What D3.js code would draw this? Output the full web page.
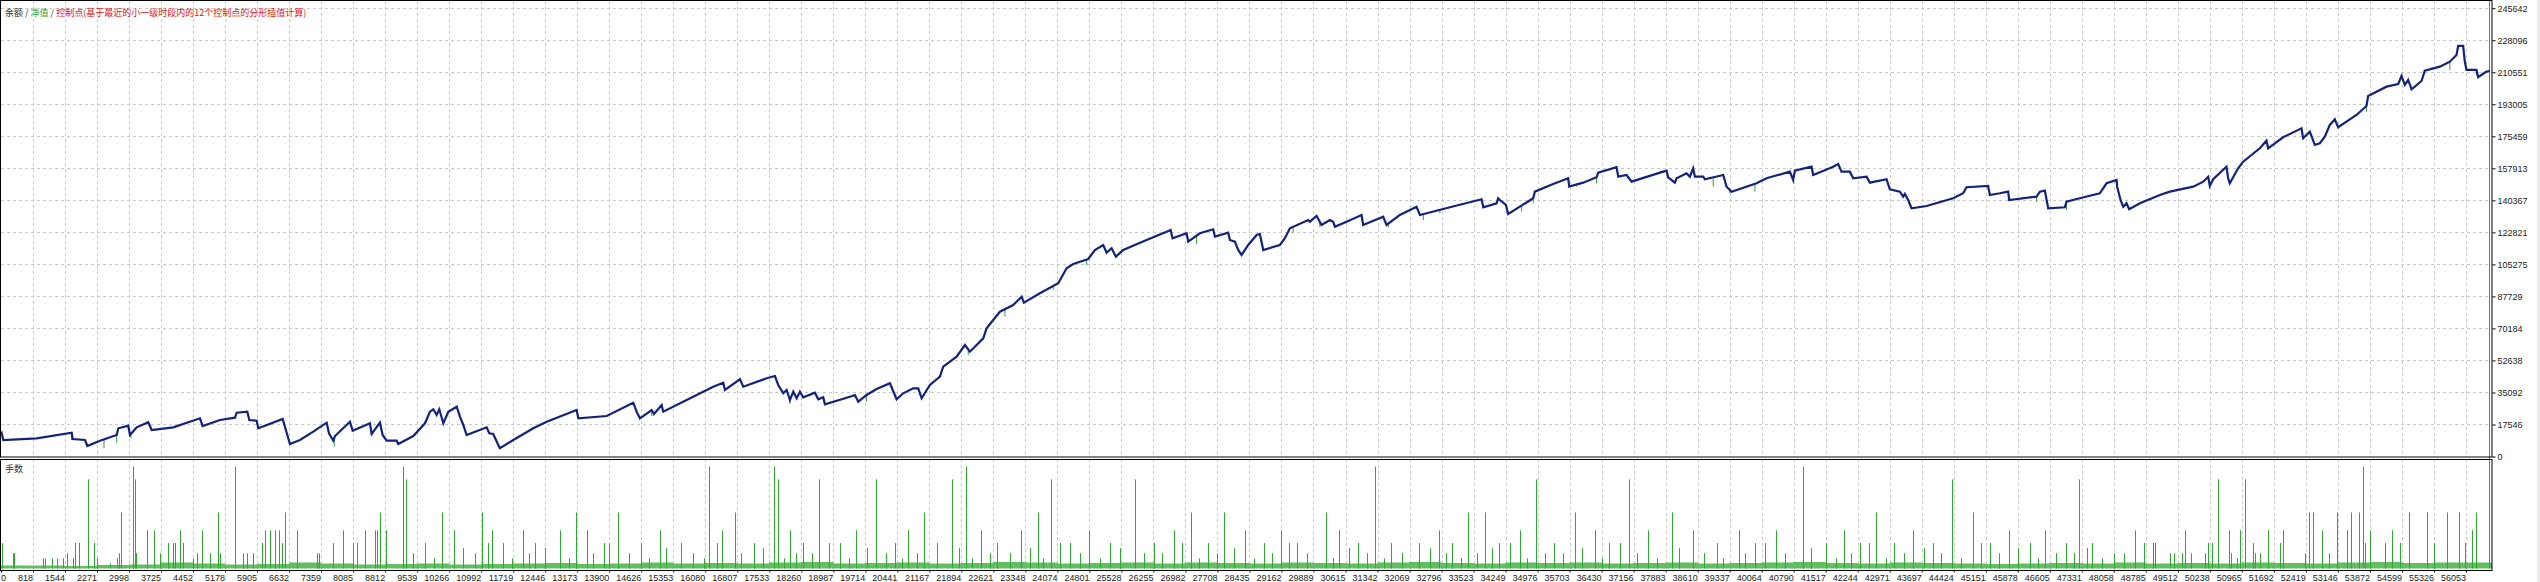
<!DOCTYPE html>
<html><head><meta charset="utf-8">
<script src="https://cdn.jsdelivr.net/npm/d3@7"></script>
<style>body{margin:0;background:#fff;overflow:hidden} svg{display:block}</style>
</head><body>
<script>
// ---------- DATA ----------
const xTickLabels = ["0","818","1544","2271","2998","3725","4452","5178","5905","6632","7359","8085","8812","9539","10266","10992","11719","12446","13173","13900","14626","15353","16080","16807","17533","18260","18987","19714","20441","21167","21894","22621","23348","24074","24801","25528","26255","26982","27708","28435","29162","29889","30615","31342","32069","32796","33523","34249","34976","35703","36430","37156","37883","38610","39337","40064","40790","41517","42244","42971","43697","44424","45151","45878","46605","47331","48058","48785","49512","50238","50965","51692","52419","53146","53872","54599","55326","56053"];
const yTickLabels = ["0","17546","35092","52638","70184","87729","105275","122821","140367","157913","175459","193005","210551","228096","245642"];
const xTickStep = 726.73;     // trades per grid column
const totalTrades = 56550;
const yTickStep = 17545.857;

const balanceTrades = [0,16,52,810,1605,1627,1907,1960,2247,2626,2664,2890,2928,3080,3344,3420,3912,4517,4578,4971,5312,5350,5591,5637,5804,5841,6394,6560,6787,7090,7393,7446,7543,7582,7922,7983,8376,8414,8603,8664,8755,8982,9019,9360,9625,9738,9814,9890,9950,10041,10155,10345,10419,10495,10571,11025,11084,11175,11289,
11327,11630,12084,12388,13068,13106,13750,14353,14430,14505,14771,14823,14998,15034,15565,16169,16397,16435,16775,16850,17381,17570,17645,17758,17835,17910,17986,18062,18137,18212,18478,18553,18666,18705,19272,19386,19461,19651,19878,20180,20332,20482,20709,20823,20900,21088,21315,21390,21694,21883,21996,22298,22375,22525,22677,
22980,23170,23222,23585,24001,24191,24341,24682,24834,25022,25099,25213,25310,25476,26007,26461,26552,26597,26915,26952,27217,27520,27558,27860,27898,28011,28087,28163,28314,28504,28579,28655,29033,29147,29260,29676,29714,29866,29979,30168,30243,30281,30546,30887,30924,31378,31454,31757,32135,32211,32892,33612,33650,33952,33989,
34027,34164,34215,34481,34784,34822,35237,35578,35601,35919,36222,36259,36676,36714,36903,37017,37735,37811,37848,38000,38038,38265,38340,38415,38454,38643,38681,39097,39173,39287,39854,40081,40610,40685,40724,41102,41140,41594,41707,41783,41972,42048,42351,42427,42805,42880,43107,43183,43221,43296,43372,43713,44318,44544,44620,45112,45150,45377,
45566,45589,46210,46287,46399,46475,46853,46891,47194,47647,47800,48027,48040,48117,48178,48253,48314,48557,49011,49237,49767,49994,50107,50144,50220,50522,50560,50598,50787,50901,51279,51430,51468,51808,52225,52263,52414,52528,52641,52755,52868,52982,53057,53246,53473,53700,53738,54155,54420,54496,54571,54647,54723,54798,54950,55025,55366,55593,55744,55782,55895,55933,55971,56198,56236,56311,56425,56500];
const balanceValues = [12000,12700,9040,9970,13040,9590,9040,5750,8660,11780,15450,16880,11780,16000,18740,14520,16000,20930,16710,20000,21260,24000,24550,20000,19620,15450,20550,6850,9040,13590,18520,12710,8660,11230,19070,14140,18190,12330,18520,11780,8660,8660,6850,11230,18190,24550,25870,22740,25870,18190,24550,27290,21810,17260,11780,16000,12710,12330,6300,
4490,9040,15450,19070,25480,20930,22190,29480,24550,20930,25480,23290,28220,24550,30960,38250,40440,36440,42310,38250,42850,44110,39180,34630,36440,30960,35510,31890,35510,32440,34960,31350,32440,28610,32770,33700,30030,33700,36990,40110,31350,34630,37370,37370,31890,39180,43730,49210,54690,61100,57430,64770,70250,74800,79350,
83020,87570,84280,89430,94910,103130,105490,108230,113160,115900,111680,114090,109490,113160,118640,123190,124120,119570,122310,117710,122310,124500,120450,122640,118640,117710,113160,110420,115900,121380,121930,113160,115900,119570,125050,129600,128670,131790,126860,129600,128670,125930,128670,132340,126860,131410,126860,132340,136890,132340,136560,140950,136560,138750,141490,
140560,137820,132890,136890,141490,145110,149330,152450,147850,150040,153000,155520,158480,153330,154260,150590,156070,156620,153000,150040,152450,155190,153330,157930,153330,153330,151910,154260,147850,145110,149710,152450,156070,151520,156620,158810,154260,158810,160290,156070,156070,152450,153330,150040,151910,146420,145110,142370,143850,140560,136010,137270,141490,144230,147520,148230,143300,144230,
145110,140560,142370,145110,145660,136010,136560,139630,141490,144230,149710,151520,147850,140560,136890,138750,135460,138750,143300,145110,147850,150590,153330,148230,151910,158810,152450,149710,157930,161550,168890,173060,168890,174920,179850,174370,177990,170700,171630,175250,181660,184780,180400,183470,187140,192070,197550,202650,204130,208510,203580,206320,201230,202650,205770,211420,213610,216350,220020,224950,224950,216350,211800,211800,207800,209060,210880,211250];

const equityDipTrades = [1605,2338,2626,2951,7566,14771,17910,19651,21958,22791,23887,24645,27142,29335,29941,31492,32290,32665,34520,34784,35768,36222,38870,39248,39816,46210,46891,53700,55593,56198];
const equityDipValues = [9040,4490,7560,9970,5370,22190,28770,30030,55620,76610,91240,104940,116450,122640,125600,125600,129600,133270,134150,138750,147850,149710,147850,144230,145110,139630,135080,188950,211800,209060];

// notable volume bars (trade number, lots)
const volumeTrades = [15,265,295,961,999,1150,1264,1416,1491,1642,1680,1778,1982,2119,2171,2474,2626,2686,2716,2989,3004,3042,3057,3306,3473,3609,3798,3912,3950,4063,4123,4351,4441,4570,4744,4933,4971,5319,5501,5577,5728,5917,5993,6106,6220,6318,6371,6447,6727,7166,7226,7529,7771,7998,8089,8263,8490,8528,8604,8740,
9119,9193,9634,10001,10295,10921,11141,11399,11840,12134,12685,13053,13310,13678,14009,14524,14965,15443,16068,16362,16656,17098,17539,17649,17907,18201,18569,19047,19415,19856,20297,20591,20959,21584,21915,22246,22614,23165,23533,23827,24268,24709,25187,25739,26180,26621,27025,27393,27761,28239,28681,29048,29416,30078,30372,30813,31181,31549,32652,32946,33314,33682,34012,34490,34858,35262,35740,36180,36511,36952,37393,37944,38422,38954,39449,39817,40295,40918,41433,41837,42204,42572,42976,43417,43858,44299,44777,45145,45586,46064,46395,46873,47168,47462,47976,48453,
48656,48843,48896,49236,49327,49502,49577,49713,50031,50106,50183,50333,50583,50614,50750,50825,50939,51128,51166,51279,51468,51734,51810,52301,52399,52490,52680,52853,53021,53248,53339,53535,53611,53670,53777,54117,54269,54457,54669,55064,55230,55518,55804,55933,56085,56198,56486];
const volumeLots = [0.5,0.3,0.3,0.2,0.2,0.2,0.2,0.2,0.3,0.2,0.5,0.5,1.75,0.5,0.2,0.1,0.2,0.3,1.1,0.5,2.0,1.75,0.3,0.75,0.75,0.3,0.5,0.5,0.5,0.75,0.5,0.2,0.3,0.75,0.3,1.1,0.3,2.0,0.3,0.3,0.3,0.5,0.75,0.75,0.75,0.75,0.5,1.1,0.75,0.3,0.3,0.5,0.75,0.5,0.5,0.75,0.75,0.75,1.1,0.75,
2.0,1.75,0.5,1.1,0.75,1.1,0.75,0.5,0.75,0.5,0.75,1.1,0.75,0.5,1.1,0.5,0.75,0.5,2.0,0.75,1.1,0.5,2.0,1.75,0.75,0.5,1.75,0.5,0.75,1.75,0.5,0.75,1.1,1.75,2.0,0.75,0.5,0.75,1.1,1.75,0.5,0.75,0.5,1.75,0.5,0.75,1.1,0.5,1.1,0.75,0.5,0.75,0.5,1.1,0.75,0.5,2.0,0.5,0.75,0.5,1.1,1.1,0.5,0.75,1.75,0.5,1.1,0.75,0.5,1.75,0.75,1.1,0.75,0.5,0.75,0.5,0.75,2.0,0.5,0.75,0.5,1.1,0.5,0.75,0.5,1.75,1.1,0.5,0.75,0.5,0.75,0.5,1.75,0.5,0.3,
0.75,0.5,0.5,0.5,0.3,0.3,0.3,0.75,0.3,0.3,0.5,0.5,1.75,0.75,0.3,0.2,0.75,1.75,0.5,0.3,0.3,0.75,0.5,0.75,0.3,1.1,1.1,0.75,0.3,1.1,0.75,1.1,1.1,2.0,0.5,0.75,0.5,0.75,0.5,1.1,1.1,0.5,1.1,1.1,0.5,0.75,1.1];

// smaller volume bars in the middle section
const smallVolumeTrades = [9350,9820,10480,10750,11050,11600,11980,12350,12900,13450,13800,14250,14700,15100,15700,15950,16250,16800,17300,17780,18050,18400,18800,19250,19650,20100,20450,20800,21250,21750,22050,22450,22900,23350,23650,24050,24500,24950,25400,25950,26350,26800,27200,27600,28000,28450,28850,29250,29650,30250,30600,31000,31400,31800,32200,32450,32800,33150,33500,33850,34250,34650,35050,35450,35900,36350,36750,37150,37600,38100,38650,39100,39600,40050,40500,41100,41650,42000,42400,42800,43200,43650,44050,44500,44950,45350,45800,46250,46650,47050,47350,47700,48200];
const smallVolumeLots = [0.3,0.2,0.4,0.3,0.5,0.2,0.3,0.4,0.2,0.3,0.5,0.3,0.2,0.4,0.3,0.2,0.5,0.3,0.4,0.2,0.3,0.3,0.5,0.2,0.4,0.3,0.2,0.3,0.5,0.4,0.2,0.3,0.3,0.4,0.2,0.5,0.3,0.2,0.4,0.3,0.3,0.5,0.2,0.3,0.4,0.2,0.3,0.5,0.3,0.2,0.4,0.3,0.2,0.3,0.5,0.4,0.3,0.2,0.3,0.4,0.5,0.2,0.3,0.3,0.4,0.2,0.5,0.3,0.2,0.4,0.3,0.2,0.3,0.5,0.3,0.4,0.2,0.3,0.5,0.2,0.3,0.4,0.3,0.2,0.5,0.3,0.4,0.2,0.3,0.3,0.4,0.2,0.3];

// typical small-lot activity per grid column (lots), read as the height of the low green band
const baseLotsPerColumn = [0.06,0.06,0.05,0.07,0.08,0.12,0.1,0.08,0.09,0.12,0.1,0.08,0.09,0.1,0.08,0.09,0.1,0.11,0.09,0.1,0.12,0.1,0.11,0.1,0.12,0.13,0.1,0.11,0.12,0.1,0.11,0.13,0.12,0.1,0.11,0.12,0.1,0.12,0.11,0.1,0.12,0.11,0.1,0.12,0.13,0.11,0.1,0.12,0.11,0.12,0.1,0.11,0.12,0.1,0.11,0.12,0.13,0.11,0.1,0.12,0.11,0.1,0.09,0.1,0.11,0.1,0.12,0.1,0.11,0.1,0.12,0.11,0.1,0.12,0.13,0.11,0.12,0.12];

const legendParts = [["余额","#333333"],[" / ","#333333"],["净值","#2e9e2e"],[" / ","#333333"],["控制点(基于最近的小一级时段内的12个控制点的分形插值计算)","#e01010"]];
const volumeLabel = "手数";

// ---------- LAYOUT ----------
const W = 2540, H = 582;
const L = 1, R = 2492, mainTop = 1, mainBottom = 457, volTop = 459, volBottom = 570;
const gridColor = "#c9c9c9";
const volColor = "#2ea82e";

const svg = d3.select("body").append("svg").attr("width", W).attr("height", H)
  .style("font-family", "'Liberation Sans', Arial, sans-serif");

const x = d3.scaleLinear().domain([0, totalTrades]).range([L, R]);
const y = d3.scaleLinear().domain([0, yTickStep * 14]).range([456.5, 8.2]);
const vMax = 2.15;
const yv = d3.scaleLinear().domain([0, vMax]).range([568.5, volTop]);

const xTickVals = xTickLabels.map((d, i) => i * xTickStep);
const yTickVals = yTickLabels.map((d, i) => i * yTickStep);

svg.append("rect").attr("x", 2537).attr("y", 0).attr("width", 3).attr("height", H).attr("fill", "#ececec");

// grid - main
const gMain = svg.append("g");
gMain.selectAll("line.hg").data(yTickVals.slice(1)).join("line")
  .attr("x1", L).attr("x2", R).attr("y1", d => Math.round(y(d)) + 0.5).attr("y2", d => Math.round(y(d)) + 0.5)
  .attr("stroke", gridColor).attr("stroke-dasharray", "3,3");
gMain.selectAll("line.vg").data(xTickVals.slice(1)).join("line")
  .attr("x1", d => Math.round(x(d)) + 0.5).attr("x2", d => Math.round(x(d)) + 0.5)
  .attr("y1", mainTop).attr("y2", mainBottom)
  .attr("stroke", gridColor).attr("stroke-dasharray", "3,3");
// grid - volume
svg.append("g").selectAll("line").data(xTickVals.slice(1)).join("line")
  .attr("x1", d => Math.round(x(d)) + 0.5).attr("x2", d => Math.round(x(d)) + 0.5)
  .attr("y1", volTop).attr("y2", volBottom)
  .attr("stroke", gridColor).attr("stroke-dasharray", "3,3");

// low-lot band (step area per grid column)
const bandData = baseLotsPerColumn.map((v, i) => [i * xTickStep, v]);
bandData.push([totalTrades, baseLotsPerColumn[baseLotsPerColumn.length - 1]]);
svg.append("path").datum(bandData)
  .attr("d", d3.area().curve(d3.curveStepAfter).x(d => x(d[0])).y0(yv(0)).y1(d => yv(d[1])))
  .attr("fill", volColor).attr("opacity", 0.75);

// volume bars
const allVol = volumeTrades.map((t, i) => [t, volumeLots[i]])
  .concat(smallVolumeTrades.map((t, i) => [t, smallVolumeLots[i]]));
svg.append("g").selectAll("line").data(allVol).join("line")
  .attr("x1", d => Math.round(x(d[0])) + 0.5).attr("x2", d => Math.round(x(d[0])) + 0.5)
  .attr("y1", yv(0)).attr("y2", d => yv(d[1]))
  .attr("stroke", volColor).attr("stroke-width", 1);

// equity dips
const balPts = balanceTrades.map((t, i) => [t, balanceValues[i]]);
const bis = d3.bisector(d => d[0]).left;
function balAt(t) {
  const i = Math.max(1, Math.min(balPts.length - 1, bis(balPts, t)));
  const a = balPts[i - 1], b = balPts[i];
  return a[1] + (b[1] - a[1]) * (t - a[0]) / ((b[0] - a[0]) || 1);
}
svg.append("g").selectAll("line").data(equityDipTrades.map((t, i) => [t, equityDipValues[i]])).join("line")
  .attr("x1", d => x(d[0])).attr("x2", d => x(d[0]))
  .attr("y1", d => y(balAt(d[0]))).attr("y2", d => y(d[1]))
  .attr("stroke", "#3c9a46").attr("stroke-width", 1);

// balance line
svg.append("path").datum(balPts)
  .attr("d", d3.line().x(d => x(d[0])).y(d => y(d[1])))
  .attr("fill", "none").attr("stroke", "#13237a").attr("stroke-width", 2.2).attr("stroke-linejoin", "miter");

// panel borders
svg.append("rect").attr("x", 0.5).attr("y", 0.5).attr("width", R - 0.5).attr("height", mainBottom - 0.5)
  .attr("fill", "none").attr("stroke", "#000");
svg.append("rect").attr("x", 0.5).attr("y", volTop + 0.5).attr("width", R - 0.5).attr("height", volBottom - volTop)
  .attr("fill", "none").attr("stroke", "#000");

// right axis (main)
const yAxis = d3.axisRight(y).tickValues(yTickVals).tickFormat((d, i) => yTickLabels[i]).tickSize(3).tickPadding(2);
const gy = svg.append("g").attr("transform", `translate(${R + 0.5},0)`).call(yAxis);
gy.select(".domain").remove();
gy.selectAll("text").attr("font-size", 9).attr("fill", "#222").attr("font-family", "'Liberation Sans', Arial, sans-serif");
gy.selectAll("line").attr("stroke", "#000");

// bottom axis labels (right-aligned to grid lines)
const xAxis = d3.axisBottom(x).tickValues(xTickVals).tickFormat((d, i) => xTickLabels[i]).tickSize(2).tickPadding(2);
const gx = svg.append("g").attr("transform", `translate(0,${volBottom + 0.5})`).call(xAxis);
gx.select(".domain").remove();
gx.selectAll("line").attr("stroke", "#000");
gx.selectAll("text").attr("font-size", 9).attr("fill", "#222")
  .attr("font-family", "'Liberation Sans', Arial, sans-serif")
  .attr("text-anchor", (d, i) => i === 0 ? "start" : "end")
  .attr("dx", -0.5)
  .attr("y", 4).attr("dy", "0.71em");

// legend
const leg = svg.append("text").attr("x", 5).attr("y", 16).attr("font-size", 9)
  .attr("font-family", "'Noto Sans CJK SC', sans-serif");
leg.selectAll("tspan").data(legendParts).join("tspan").text(d => d[0]).attr("fill", d => d[1]);

svg.append("text").attr("x", 5).attr("y", 472).attr("font-size", 9)
  .attr("font-family", "'Noto Sans CJK SC', sans-serif").attr("fill", "#333").text(volumeLabel);
</script>
</body></html>
